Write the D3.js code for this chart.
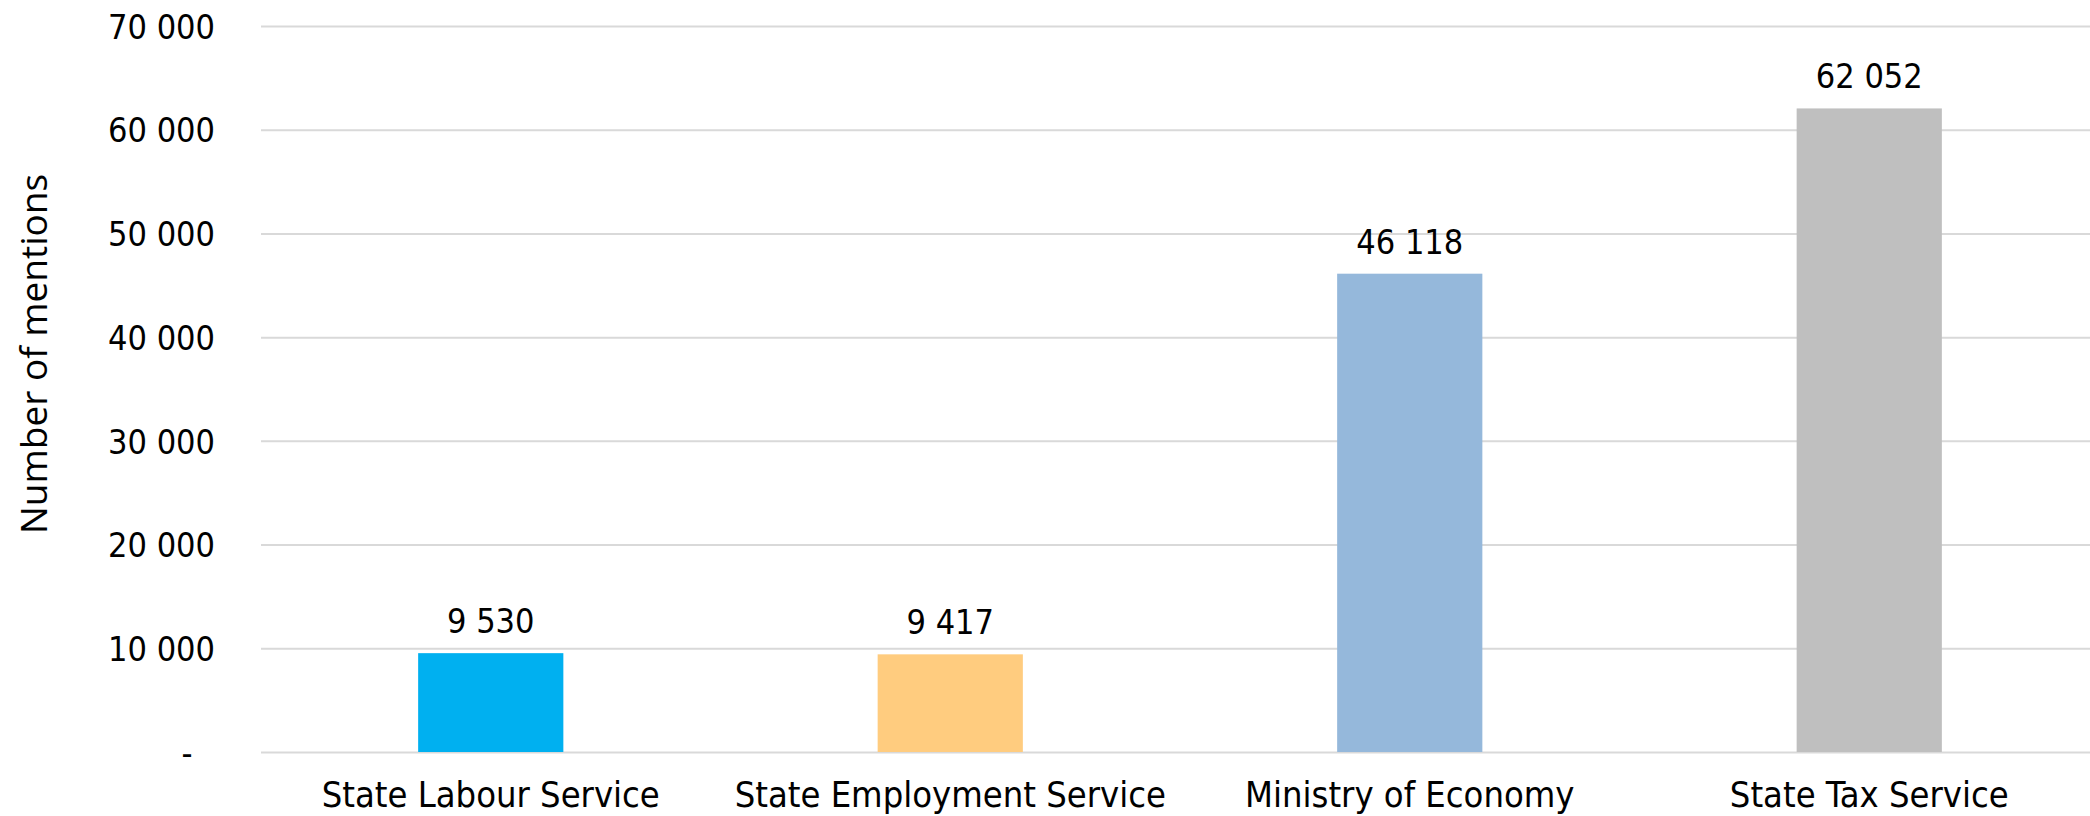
<!DOCTYPE html>
<html>
<head>
<meta charset="utf-8">
<script src="https://cdn.jsdelivr.net/npm/d3@7"></script>
<style>
  html, body { margin: 0; padding: 0; background: #fff; }
  svg { display: block; }
</style>
</head>
<body>
<svg id="chart" width="2090" height="816"></svg>
<script>
const categories = ["State Labour Service", "State Employment Service", "Ministry of Economy", "State Tax Service"];
const values = [9530, 9417, 46118, 62052];
const colors = ["#00B0F0", "#FFCC7F", "#95B8DB", "#BFBFBF"];
const yTicks = [0, 10000, 20000, 30000, 40000, 50000, 60000, 70000];
const yTitle = "Number of mentions";

const W = 2090, H = 816;
const plot = { left: 261, right: 2099, top: 26, bottom: 752 };
const FONT = "'DejaVu Sans Condensed', 'DejaVu Sans', sans-serif";

const svg = d3.select("#chart");

const fmt = v => v === 0 ? "-" : d3.format(",")(v).replace(/,/g, " ");

const x = d3.scaleBand()
  .domain(categories)
  .range([plot.left, plot.right])
  .paddingInner(0.684)
  .paddingOuter(0.342);

const y = d3.scaleLinear()
  .domain([0, 70000])
  .range([plot.bottom, plot.top]);

// gridlines + y tick labels
const yAxis = svg.append("g")
  .attr("transform", `translate(${plot.left},0)`)
  .call(d3.axisLeft(y)
    .tickValues(yTicks)
    .tickSize(-(W - plot.left))
    .tickPadding(46)
    .tickFormat(fmt));
yAxis.select(".domain").remove();
yAxis.selectAll(".tick line")
  .attr("stroke", "#D9D9D9")
  .attr("stroke-width", 2);
yAxis.selectAll(".tick text")
  .attr("font-family", FONT)
  .attr("font-size", 34)
  .attr("fill", "#000")
  .attr("dy", "0.36em");
yAxis.selectAll(".tick").filter(d => d === 0).select("text")
  .attr("text-anchor", "middle")
  .attr("x", 187 - plot.left);

// bars
svg.append("g").selectAll("rect")
  .data(values)
  .join("rect")
  .attr("x", (d, i) => x(categories[i]))
  .attr("width", x.bandwidth())
  .attr("y", d => y(d))
  .attr("height", d => y(0) - y(d))
  .attr("fill", (d, i) => colors[i]);

// value labels
svg.append("g").selectAll("text")
  .data(values)
  .join("text")
  .attr("x", (d, i) => x(categories[i]) + x.bandwidth() / 2)
  .attr("y", d => y(d) - 20)
  .attr("text-anchor", "middle")
  .attr("font-family", FONT)
  .attr("font-size", 34)
  .attr("fill", "#000")
  .text(d => fmt(d));

// category axis labels
const xAxis = svg.append("g")
  .attr("transform", `translate(0,${plot.bottom})`)
  .call(d3.axisBottom(x).tickSize(0).tickPadding(0));
xAxis.select(".domain").remove();
xAxis.selectAll(".tick text")
  .attr("font-family", FONT)
  .attr("font-size", 36)
  .attr("fill", "#000")
  .attr("dy", null)
  .attr("y", 55);

// y title
svg.append("text")
  .attr("transform", `translate(47,354) rotate(-90)`)
  .attr("text-anchor", "middle")
  .attr("font-family", "'Open Sans', sans-serif")
  .attr("font-size", 37)
  .attr("fill", "#000")
  .text(yTitle);
</script>
</body>
</html>
